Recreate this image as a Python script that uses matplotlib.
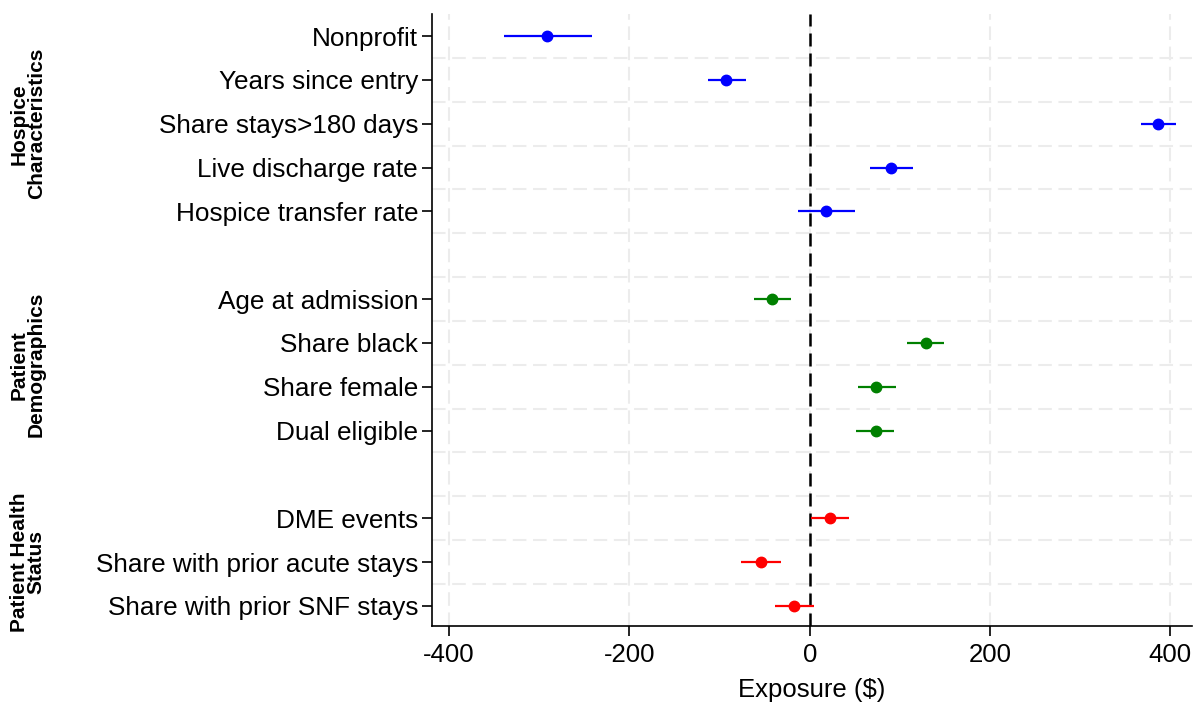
import matplotlib
matplotlib.use("Agg")
import matplotlib.pyplot as plt
import numpy as np

plt.rcParams['font.family'] = ['Liberation Sans', 'DejaVu Sans']
plt.rcParams['axes.unicode_minus'] = False

# coefficient estimates with 95% intervals, in $
labels = ["Nonprofit", "Years since entry", "Share stays>180 days",
          "Live discharge rate", "Hospice transfer rate",
          "Age at admission", "Share black", "Share female", "Dual eligible",
          "DME events", "Share with prior acute stays", "Share with prior SNF stays"]
groups = [0, 0, 0, 0, 0, 1, 1, 1, 1, 2, 2, 2]
coef = [-291, -93, 386, 90, 18, -42, 129, 74, 73, 22, -54, -17]
ci_lo = [-339, -113, 367, 67, -13, -62, 108, 53, 51, 1, -76, -39]
ci_hi = [-242, -71, 406, 114, 50, -21, 149, 96, 93, 44, -32, 5]
group_names = ["Hospice\nCharacteristics", "Patient\nDemographics", "Patient Health\nStatus"]
group_colors = ["#0000ff", "#008000", "#ff0000"]

# one blank row between groups
rows = [i + g for i, g in enumerate(groups)]

fig = plt.figure(figsize=(11.95, 7.05), dpi=100)
ax = fig.add_axes([0.3615, 0.112, 0.636, 0.868])

for r, c, lo, hi, g in zip(rows, coef, ci_lo, ci_hi, groups):
    col = group_colors[g]
    ax.plot([lo, hi], [r, r], color=col, lw=1.6, zorder=3, solid_capstyle='butt')
    ax.plot(c, r, 'o', color=col, ms=7.5, zorder=4)

ax.axvline(0, color='black', lw=1.8, ls=(0, (5.2, 2.8)), zorder=2)

ax.set_xlim(-419, 424)
ax.set_ylim(13.46, -0.5)
ax.set_xticks([-400, -200, 0, 200, 400])
ax.set_yticks(rows)
ax.set_yticklabels(labels)
ax.set_yticks(np.arange(0.5, 13, 1), minor=True)
ax.tick_params(axis='y', which='minor', length=0)
ax.tick_params(axis='both', which='major', length=7, width=1.2, direction='out')
ax.tick_params(axis='y', which='major', labelsize=18.8, pad=3)
ax.tick_params(axis='x', which='major', labelsize=18.5, pad=5)

grid_style = dict(color='#ececec', lw=1.5, ls=(0, (6.5, 3.2)))
ax.grid(axis='y', which='minor', **grid_style)
ax.grid(axis='x', which='major', **grid_style)
ax.set_axisbelow(True)

for side in ['top', 'right']:
    ax.spines[side].set_visible(False)
for side in ['left', 'bottom']:
    ax.spines[side].set_linewidth(1.2)

ax.set_xlabel("Exposure (\\$)", fontsize=18.5, labelpad=8)

# group labels on the far left
for g, name in enumerate(group_names):
    g_rows = [r for r, gg in zip(rows, groups) if gg == g]
    ymid = (min(g_rows) + max(g_rows)) / 2
    ax.text(-0.532, ymid, name, transform=ax.get_yaxis_transform(),
            rotation=90, ha='center', va='center', fontsize=15,
            fontweight='bold', linespacing=0.88)

fig.savefig("out.png", dpi=100)
